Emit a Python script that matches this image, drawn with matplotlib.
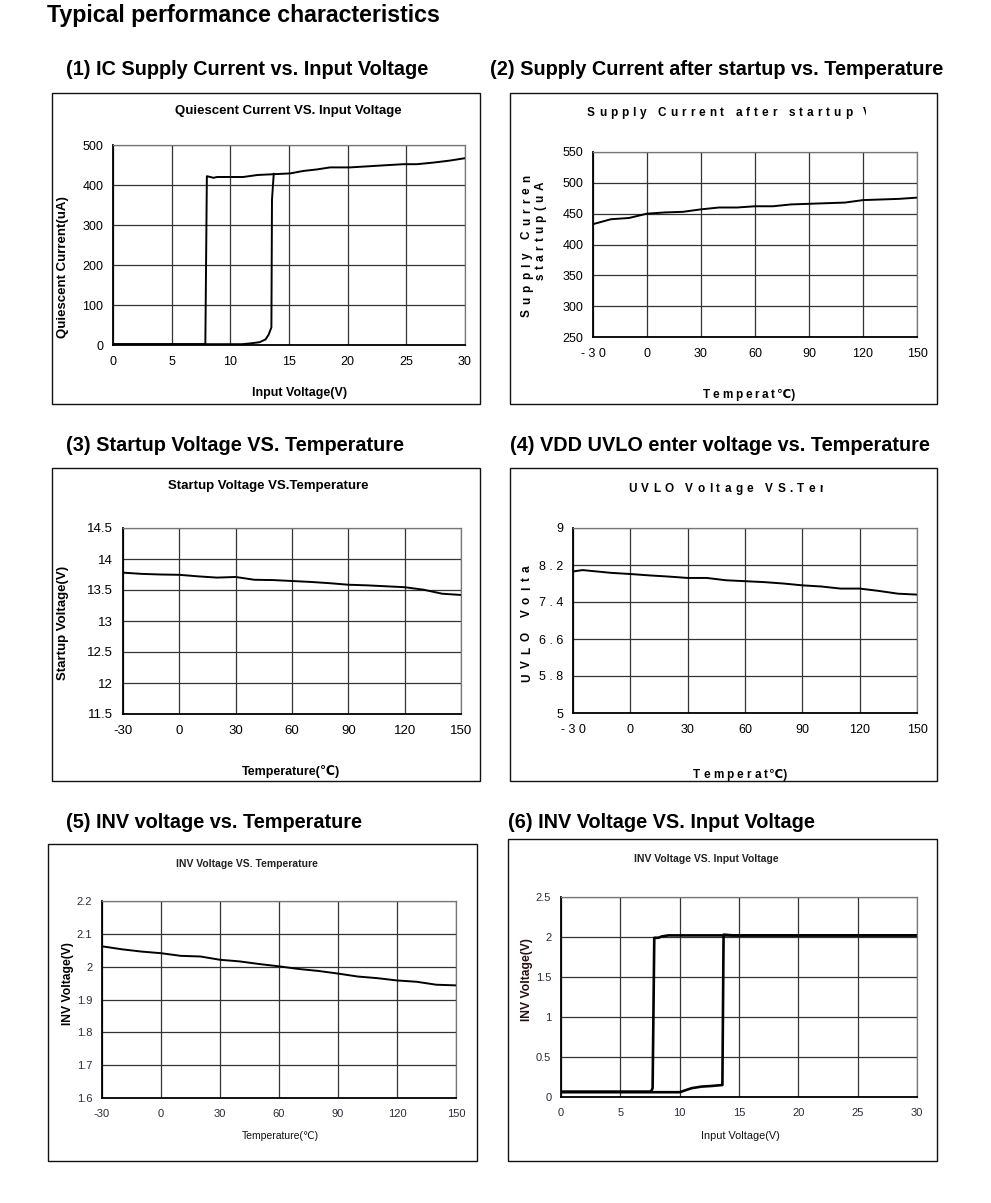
import matplotlib
matplotlib.use("Agg")
import matplotlib.pyplot as plt
from matplotlib.patches import Rectangle
from matplotlib.transforms import Bbox, TransformedBbox
from matplotlib.font_manager import FontProperties

# ---------------- data ----------------
# (1) Quiescent current vs input voltage (two branches of the hysteresis)
q_rise_v = [0, 11.0, 11.7, 12.5, 13.0, 13.25, 13.5, 13.55, 13.7]
q_rise_i = [2, 2, 4, 7, 14, 25, 44, 363, 428]
q_fall_v = [0, 7.87, 8.0, 8.57, 8.86, 11.1, 12.3, 13.7, 15.1, 16.2, 17.4, 18.5,
            20.2, 21.9, 23.0, 24.75, 25.9, 27.3, 28.7, 30.0]
q_fall_i = [2, 2, 422, 418, 420, 420, 425, 427, 429, 435, 439, 444,
            444, 447, 449, 452, 452, 456, 461, 467]

# temperature axis shared by panels 2-5
temps = [-30, -20, -10, 0, 10, 20, 30, 40, 50, 60, 70, 80, 90, 100, 110, 120, 130, 140, 150]
# (2) supply current after startup (uA)
supply_i = [433, 441, 443, 450, 452, 453, 457, 460, 460, 462, 462, 465, 466, 467,
            468, 472, 473, 474, 476]
# (3) startup voltage (V)
startup_v = [13.78, 13.76, 13.75, 13.745, 13.72, 13.70, 13.71, 13.665, 13.66, 13.645,
             13.63, 13.61, 13.585, 13.575, 13.56, 13.545, 13.505, 13.44, 13.42]
# (4) UVLO voltage (V)
uvlo_t = [-30, -25, -20, -10, 0, 10, 20, 30, 40, 50, 60, 70, 80, 90, 100, 110, 120, 130, 140, 150]
uvlo_v = [8.06, 8.09, 8.07, 8.03, 8.005, 7.975, 7.95, 7.92, 7.92, 7.87, 7.85, 7.83,
          7.80, 7.76, 7.735, 7.69, 7.69, 7.64, 7.58, 7.56]
# (5) INV voltage vs temperature
inv_t_v = [2.062, 2.053, 2.046, 2.041, 2.033, 2.031, 2.021, 2.016, 2.008, 2.001,
           1.993, 1.987, 1.979, 1.970, 1.965, 1.958, 1.954, 1.945, 1.943]
# (6) INV voltage vs input voltage
inv_fall_x = [0, 7.58, 7.72, 7.86, 8.2, 8.5, 9.04, 30]
inv_fall_y = [0.067, 0.067, 0.11, 1.99, 1.99, 2.007, 2.02, 2.02]
inv_rise_x = [0, 10.0, 11.0, 11.84, 12.7, 13.6, 13.7, 14.5, 30]
inv_rise_y = [0.06, 0.06, 0.11, 0.13, 0.138, 0.15, 2.03, 2.02, 2.02]

# tick labels
q_xticks = [0, 5, 10, 15, 20, 25, 30]
q_yticks = [0, 100, 200, 300, 400, 500]
t_ticks = [-30, 0, 30, 60, 90, 120, 150]
t_ticklabels_spaced = ["- 3 0", "0", "30", "60", "90", "120", "150"]
supply_yticks = [250, 300, 350, 400, 450, 500, 550]
startup_yticks = [11.5, 12, 12.5, 13, 13.5, 14, 14.5]
startup_yticklabels = ["11.5", "12", "12.5", "13", "13.5", "14", "14.5"]
uvlo_yticks = [5, 5.8, 6.6, 7.4, 8.2, 9]
uvlo_yticklabels = ["5", "5 . 8", "6 . 6", "7 . 4", "8 . 2", "9"]
inv_t_yticks = [1.6, 1.7, 1.8, 1.9, 2.0, 2.1, 2.2]
inv_t_yticklabels = ["1.6", "1.7", "1.8", "1.9", "2", "2.1", "2.2"]
inv_v_yticks = [0, 0.5, 1, 1.5, 2, 2.5]
inv_v_yticklabels = ["0", "0.5", "1", "1.5", "2", "2.5"]

# ---------------- figure ----------------
W, H = 991, 1203
fig = plt.figure(figsize=(W / 100, H / 100), dpi=100)
fig.patch.set_facecolor("white")

SANS = ["Liberation Sans", "DejaVu Sans"]
NARROW = ["Liberation Sans Narrow", "Liberation Sans", "DejaVu Sans"]
plt.rcParams["font.family"] = SANS
plt.rcParams["axes.unicode_minus"] = False
renderer = fig.canvas.get_renderer()


def fx(x):
    return x / W


def fy(y):
    return 1 - y / H


def clip_box(clip):
    x0, y0, x1, y1 = clip
    return TransformedBbox(Bbox.from_extents(fx(x0), fy(y1), fx(x1), fy(y0)),
                           fig.transFigure)


def box(x0, y0, x1, y1):
    fig.patches.append(Rectangle((fx(x0), fy(y1)), fx(x1) - fx(x0), fy(y0) - fy(y1),
                                 transform=fig.transFigure, fill=False,
                                 edgecolor="#111111", lw=1.0))


def make_ax(x0, y0, x1, y1, size, xpad=8, ypad=7, tcolor="black"):
    ax = fig.add_axes([fx(x0), fy(y1), fx(x1) - fx(x0), fy(y0) - fy(y1)])
    ax.set_axisbelow(True)
    ax.grid(True, color="#333333", lw=0.9)
    for s in ("top", "right"):
        ax.spines[s].set_color("#777777")
        ax.spines[s].set_linewidth(0.9)
    for s in ("left", "bottom"):
        ax.spines[s].set_color("black")
        ax.spines[s].set_linewidth(1.3)
    ax.tick_params(axis="both", length=0, labelsize=size, labelcolor=tcolor)
    ax.tick_params(axis="x", pad=xpad)
    ax.tick_params(axis="y", pad=ypad)
    return ax


def set_fonts(ax, font):
    for lab in ax.get_xticklabels() + ax.get_yticklabels():
        lab.set_family(font)


def text(x, y, s, size, ha="center", va="center", rot=0, bold=True, family=SANS,
         clip=None, color="black"):
    t = fig.text(fx(x), fy(y), s, fontsize=size, ha=ha, va=va, rotation=rot,
                 fontweight="bold" if bold else "normal", family=family, color=color)
    if clip is not None:
        t.set_clip_box(clip_box(clip))
        t.set_clip_on(True)
    return t


def char_w(ch, fp):
    if ch == " ":
        w1, _, _ = renderer.get_text_width_height_descent("a a", fp, False)
        w2, _, _ = renderer.get_text_width_height_descent("aa", fp, False)
        return w1 - w2
    w, _, _ = renderer.get_text_width_height_descent(ch, fp, False)
    return w


def spaced(x, y, s, size, length, rot=0, clip=None, tail=""):
    """Letter-spaced bold text. (x, y) is the baseline start in pixels;
    `length` is the span of `s`; `tail` chars continue with the same tracking.
    Returns the pixel offset where the last drawn glyph ends."""
    fp = FontProperties(family=SANS, weight="bold", size=size)
    widths = [char_w(c, fp) for c in s]
    track = (length - sum(widths)) / (len(s) - 1)
    pos = 0.0
    allchars = s + tail
    allw = widths + [char_w(c, fp) for c in tail]
    last_end = 0.0
    for c, w in zip(allchars, allw):
        if c != " ":
            if rot == 0:
                t = fig.text(fx(x + pos), fy(y), c, rotation=0)
            else:
                t = fig.text(fx(x), fy(y - pos), c, rotation=90)
            t.set_rotation_mode("anchor")
            t.set_ha("left")
            t.set_va("baseline")
            t.set_fontproperties(fp)
            if clip is not None:
                t.set_clip_box(clip_box(clip))
                t.set_clip_on(True)
        last_end = pos + w
        pos += w + track
    return last_end


# headings
text(47, 22, "Typical performance characteristics", 16.7, ha="left", va="baseline")
text(66, 75, "(1) IC Supply Current vs. Input Voltage", 14.3, ha="left", va="baseline")
text(490, 75, "(2) Supply Current after startup vs. Temperature", 14.3, ha="left", va="baseline")
text(66, 451, "(3) Startup Voltage VS. Temperature", 14.3, ha="left", va="baseline")
text(510, 451, "(4) VDD UVLO enter voltage vs. Temperature", 14.3, ha="left", va="baseline")
text(66, 828, "(5) INV voltage vs. Temperature", 14.3, ha="left", va="baseline")
text(508, 828, "(6) INV Voltage VS. Input Voltage", 14.3, ha="left", va="baseline")

LW = 1.4

# ---- panel 1 ----
box(52, 93, 480, 404)
ax1 = make_ax(113, 145, 465, 345, 9)
ax1.plot(q_rise_v, q_rise_i, color="black", lw=LW, solid_joinstyle="round")
ax1.plot(q_fall_v, q_fall_i, color="black", lw=LW, solid_joinstyle="round")
ax1.set_xlim(0, 30)
ax1.set_ylim(0, 500)
ax1.set_xticks(q_xticks)
ax1.set_yticks(q_yticks)
set_fonts(ax1, SANS)
text(288, 111, "Quiescent Current VS. Input Voltage", 9.5)
text(63, 267, "Quiescent Current(uA)", 9.5, rot=90)
text(300, 393, "Input Voltage(V)", 9)

# ---- panel 2 ----
box(510, 93, 937, 404)
ax2 = make_ax(593, 152, 917, 337, 9)
ax2.plot(temps, supply_i, color="black", lw=LW)
ax2.set_xlim(-30, 150)
ax2.set_ylim(250, 550)
ax2.set_xticks(t_ticks)
ax2.set_xticklabels(t_ticklabels_spaced)
ax2.set_yticks(supply_yticks)
set_fonts(ax2, SANS)
spaced(587, 116, "Supply Current after startup", 8.5, 265, tail=" V",
       clip=(0, 0, 866, H))
spaced(530, 317, "Supply Curren", 8.5, 142, rot=90, tail="t", clip=(0, 175, W, H))
spaced(543.5, 280, "startup(uA", 8.5, 98, rot=90, clip=(0, 183, W, H))
end = spaced(703, 398, "Temperat", 8.5, 72)
text(703 + end + 1.5, 398, "℃)", 8.5, ha="left", va="baseline")

# ---- panel 3 ----
box(52, 468, 480, 781)
ax3 = make_ax(123, 528, 461, 714, 9.5)
ax3.plot(temps, startup_v, color="black", lw=LW)
ax3.set_xlim(-30, 150)
ax3.set_ylim(11.5, 14.5)
ax3.set_xticks(t_ticks)
ax3.set_yticks(startup_yticks)
ax3.set_yticklabels(startup_yticklabels)
set_fonts(ax3, SANS)
text(268, 486, "Startup Voltage VS.Temperature", 9.5)
text(63, 623, "Startup Voltage(V)", 9.5, rot=90)
text(291, 771, "Temperature(℃)", 9)

# ---- panel 4 ----
box(510, 468, 937, 781)
ax4 = make_ax(573, 528, 917, 713, 9)
ax4.plot(uvlo_t, uvlo_v, color="black", lw=LW)
ax4.set_xlim(-30, 150)
ax4.set_ylim(5, 9)
ax4.set_xticks(t_ticks)
ax4.set_xticklabels(t_ticklabels_spaced)
ax4.set_yticks(uvlo_yticks)
ax4.set_yticklabels(uvlo_yticklabels)
set_fonts(ax4, SANS)
spaced(628, 492, "UVLO Voltage VS.Te", 8.5, 187, tail="m", clip=(0, 0, 823, H))
spaced(530, 682, "UVLO Volta", 8.5, 117, rot=90, tail="g", clip=(0, 563, W, H))
end = spaced(693, 778, "Temperat", 8.5, 75)
text(693 + end + 1.5, 778, "℃)", 8.5, ha="left", va="baseline")

# ---- panel 5 ----
box(48, 844, 477, 1161)
ax5 = make_ax(102, 901, 456, 1098, 8, tcolor="#2b2b3b")
ax5.plot(temps, inv_t_v, color="black", lw=LW)
ax5.set_xlim(-30, 150)
ax5.set_ylim(1.6, 2.2)
ax5.set_xticks(t_ticks)
ax5.set_yticks(inv_t_yticks)
ax5.set_yticklabels(inv_t_yticklabels)
set_fonts(ax5, NARROW)
text(247, 864, "INV Voltage VS. Temperature", 7.5, family=NARROW, color="#222")
text(68, 984, "INV Voltage(V)", 8.7, rot=90, family=NARROW)
text(280, 1136, "Temperature(℃)", 7.5, family=NARROW, bold=False, color="#111")

# ---- panel 6 ----
box(508, 839, 937, 1161)
ax6 = make_ax(561, 897, 917, 1097, 8, tcolor="#2b2b3b")
ax6.plot(inv_fall_x, inv_fall_y, color="black", lw=1.9)
ax6.plot(inv_rise_x, inv_rise_y, color="black", lw=1.9)
ax6.set_xlim(0, 30)
ax6.set_ylim(0, 2.5)
ax6.set_xticks(q_xticks)
ax6.set_yticks(inv_v_yticks)
ax6.set_yticklabels(inv_v_yticklabels)
set_fonts(ax6, NARROW)
text(706, 859, "INV Voltage VS. Input Voltage", 7.5, family=NARROW, color="#222")
text(527, 980, "INV Voltage(V)", 8.7, rot=90, family=NARROW, color="#2a1010")
text(740, 1136, "Input Voltage(V)", 7.8, family=NARROW, bold=False, color="#111")

fig.savefig("out.png", dpi=100, facecolor="white")
